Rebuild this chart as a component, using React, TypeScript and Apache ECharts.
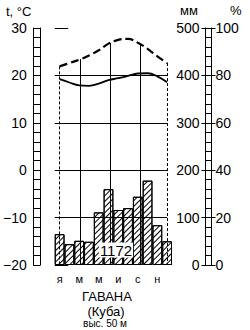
import React, { useEffect, useRef } from "react";
import * as echarts from "echarts";

const months = ["я", "ф", "м", "а", "м", "и", "и", "а", "с", "о", "н", "д"];
const precipitation = [65, 44, 51, 49, 111, 160, 116, 120, 144, 178, 84, 50];
const temperature = [21.9, 22.6, 23.3, 24.2, 25.3, 26.7, 27.5, 27.7, 26.9, 25.6, 24.0, 22.6];
const humidity = [78.4, 77, 75.8, 75.6, 76.5, 78, 78.8, 79.8, 80.8, 80.9, 79.6, 77.1];
const tempRange = { min: -20, max: 30, major: 10, minor: 2 };
const mmRange = { min: 0, max: 500, major: 100, minor: 20 };
const pctRange = { min: 0, max: 100, major: 20 };
const tempGridLines = [20, 10, 0, -10];
const seasonMarks = [2.65, 5.7, 8.73]; // equinoxes / solstices, in months from Jan 1
const stationName = "ГАВАНА";
const countryName = "(Куба)";
const altitudeText = "выс. 50 м";

const FONT = "Liberation Sans, Arial, sans-serif";

function tempAt(x: number): number {
  const p = x - 0.5;
  const i = Math.max(0, Math.min(temperature.length - 2, Math.floor(p)));
  const f = p - i;
  return temperature[i] + (temperature[i + 1] - temperature[i]) * f;
}

export default function App() {
  const ref = useRef<HTMLDivElement>(null);
  useEffect(() => {
    if (!ref.current) return;
    const chart = echarts.init(ref.current, null, { renderer: "svg" });
    const black = "#000";
    const total = precipitation.reduce((a, b) => a + b, 0);
    const lineData = (arr: number[]) => arr.map((v, i) => [i + 0.5, v]);
    const hidden = { show: false };
    const markData: any[] = [];
    tempGridLines.forEach((t) =>
      markData.push([
        { coord: [0.5, t], lineStyle: { type: "solid", width: 1, color: black } },
        { coord: [11.5, t] },
      ])
    );
    [0.5, 11.5].forEach((x) =>
      markData.push([
        { coord: [x, tempAt(x)], lineStyle: { type: [3, 2], width: 1, color: black } },
        { coord: [x, tempRange.min] },
      ])
    );
    seasonMarks.forEach((x) =>
      markData.push([
        { coord: [x, tempAt(x)], lineStyle: { type: "solid", width: 1, color: black } },
        { coord: [x, tempRange.min] },
      ])
    );

    chart.setOption({
      animation: false,
      grid: { left: 54, right: 78, top: 28, bottom: 65, containLabel: false },
      xAxis: [
        { type: "value", min: 0, max: 12, show: false },
        {
          type: "category",
          data: months,
          position: "bottom",
          axisLine: hidden,
          axisTick: hidden,
          splitLine: hidden,
          axisLabel: { interval: 1, color: black, fontSize: 11, fontFamily: FONT, margin: 8 },
        },
      ],
      yAxis: [
        {
          type: "value", min: tempRange.min, max: tempRange.max, interval: tempRange.major,
          position: "left", offset: 25,
          axisLine: hidden,
          axisTick: { show: true, inside: true, length: 13.5, lineStyle: { color: black, width: 1 } },
          axisLabel: {
            margin: 3, color: black, fontSize: 14, fontFamily: FONT,
            formatter: (v: number) => (v < 0 ? "−" + Math.abs(v) : String(v)),
          },
          splitLine: hidden,
        },
        {
          type: "value", min: tempRange.min, max: tempRange.max, interval: tempRange.minor,
          position: "left", offset: 21.5,
          axisLine: { show: true, lineStyle: { color: black, width: 1 } },
          axisTick: { show: true, inside: true, length: 7, lineStyle: { color: black, width: 1 } },
          axisLabel: hidden,
          splitLine: hidden,
        },
        {
          type: "value", min: tempRange.min, max: tempRange.max, interval: tempRange.major,
          position: "left", offset: 14.5,
          axisLine: { show: true, lineStyle: { color: black, width: 1 } },
          axisTick: hidden, axisLabel: hidden, splitLine: hidden,
        },
        {
          type: "value", min: mmRange.min, max: mmRange.max, interval: mmRange.major,
          position: "right", offset: 29.5,
          axisLine: hidden,
          axisTick: { show: true, inside: false, length: 14, lineStyle: { color: black, width: 1 } },
          axisLabel: { inside: true, margin: 2, color: black, fontSize: 14, fontFamily: FONT },
          splitLine: hidden,
        },
        {
          type: "value", min: mmRange.min, max: mmRange.max, interval: mmRange.minor,
          position: "right", offset: 33.5,
          axisLine: { show: true, lineStyle: { color: black, width: 1 } },
          axisTick: { show: true, inside: false, length: 6, lineStyle: { color: black, width: 1 } },
          axisLabel: hidden, splitLine: hidden,
        },
        {
          type: "value", min: pctRange.min, max: pctRange.max, interval: pctRange.major,
          position: "right", offset: 39.5,
          axisLine: { show: true, lineStyle: { color: black, width: 1 } },
          axisTick: hidden,
          axisLabel: { margin: 4, color: black, fontSize: 14, fontFamily: FONT },
          splitLine: hidden,
        },
      ],
      series: [
        {
          type: "line", name: "guides", xAxisIndex: 0, yAxisIndex: 0, z: 1,
          data: lineData(temperature), symbol: "none", lineStyle: { opacity: 0, width: 0 },
          silent: true,
          markLine: { silent: true, symbol: ["none", "none"], label: { show: false }, data: markData },
        },
        {
          type: "bar", name: "Осадки, мм", xAxisIndex: 1, yAxisIndex: 3, z: 2,
          data: precipitation, barCategoryGap: "0%",
          itemStyle: {
            color: "#fff", borderColor: black, borderWidth: 1,
            decal: {
              symbol: "rect", symbolSize: 1, color: black,
              dashArrayX: [1, 0], dashArrayY: [1, 2.2], rotation: -Math.PI / 4,
            },
          },
        },
        {
          type: "line", name: "Температура, °C", xAxisIndex: 0, yAxisIndex: 0, z: 3,
          data: lineData(temperature), smooth: 0.4, symbol: "none",
          lineStyle: { color: black, width: 2.2, type: [8, 4] },
        },
        {
          type: "line", name: "Влажность, %", xAxisIndex: 0, yAxisIndex: 5, z: 3,
          data: lineData(humidity), smooth: 0.4, symbol: "none",
          lineStyle: { color: black, width: 1.8, type: "solid" },
        },
      ],
      graphic: [
        { type: "text", left: 6, top: 5, z: 100, style: { text: "t, °C", font: `13px ${FONT}`, fill: black } },
        { type: "text", left: 180, top: 4, z: 100, style: { text: "мм", font: `13px ${FONT}`, fill: black } },
        { type: "text", left: 230, top: 4, z: 100, style: { text: "%", font: `13px ${FONT}`, fill: black } },
        {
          type: "text", x: 116, y: 250, z: 100,
          style: {
            text: String(total), font: `15px ${FONT}`, fill: black, align: "center", verticalAlign: "middle",
            backgroundColor: "#fff", padding: [0, 1],
          },
        },
        { type: "text", x: 107, y: 296, z: 100, style: { text: stationName, font: `13px ${FONT}`, fill: black, align: "center", verticalAlign: "middle" } },
        { type: "text", x: 106, y: 311, z: 100, style: { text: countryName, font: `13px ${FONT}`, fill: black, align: "center", verticalAlign: "middle" } },
        { type: "text", x: 105, y: 323, z: 100, style: { text: altitudeText, font: `10px ${FONT}`, fill: black, align: "center", verticalAlign: "middle" } },
      ],
    });
    return () => chart.dispose();
  }, []);
  return (
    <div
      ref={ref}
      style={{ position: "fixed", left: 0, top: 0, width: 250, height: 330, background: "#fff" }}
    />
  );
}
